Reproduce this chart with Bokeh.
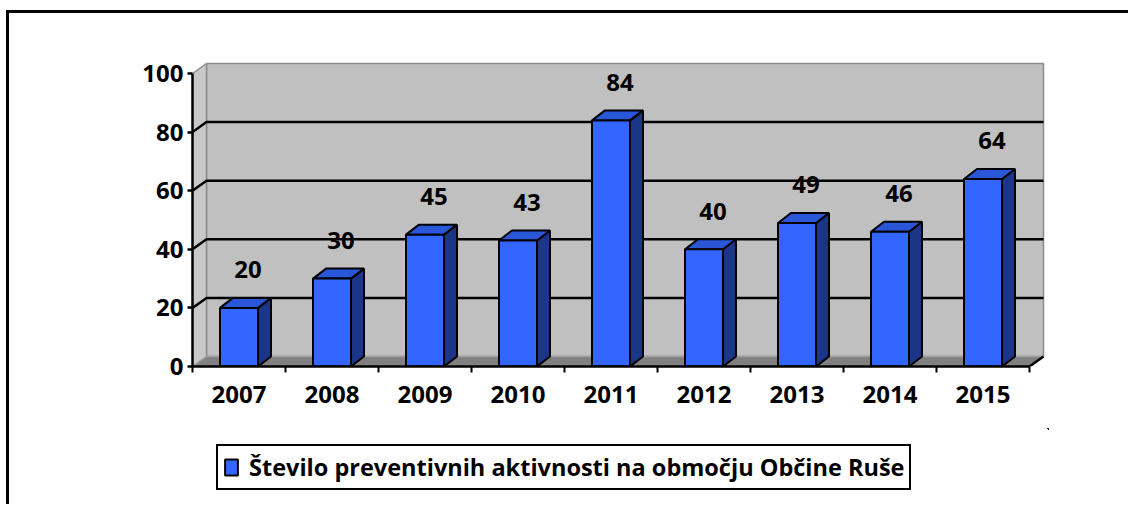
from bokeh.plotting import figure
from bokeh.layouts import column
from bokeh.models import Range1d, FixedTicker, Legend, LegendItem
from bokeh.core.properties import value
from bokeh.embed import file_html
from bokeh.resources import INLINE

# ---- data ----
years = ["2007", "2008", "2009", "2010", "2011", "2012", "2013", "2014", "2015"]
counts = [20, 30, 45, 43, 84, 40, 49, 46, 64]
y_ticks = [0, 20, 40, 60, 80, 100]
series_name = "Število preventivnih aktivnosti na območju Občine Ruše"

# ---- styling / geometry ----
FONT = "Open Sans"
PX_X = 93.0      # pixels per category
PX_Y = 2.93      # pixels per value unit
FRAME_W, FRAME_H = 856, 306
DX, DY = 14 / PX_X, 10 / PX_Y          # wall depth
BDX, BDY = 13 / PX_X, 10 / PX_Y        # bar depth
BW = 38 / PX_X                          # bar front width
FRONT = dict(fill_color="#3366FF", line_color="black", line_width=2)

n = len(years)
ymax = y_ticks[-1]
centers = [i + 0.5 for i in range(n)]

p = figure(frame_width=FRAME_W, frame_height=FRAME_H,
           x_range=Range1d(0, FRAME_W / PX_X), y_range=Range1d(0, FRAME_H / PX_Y),
           output_backend="svg", toolbar_location=None,
           min_border_left=183, min_border_top=47, min_border_right=80, min_border_bottom=62)
p.outline_line_color = None
p.xgrid.visible = False
p.ygrid.visible = False
p.background_fill_color = "white"
p.border_fill_color = "white"

# walls and floor
p.quad(left=DX, right=n + DX, bottom=DY, top=ymax + DY,
       fill_color="#C0C0C0", line_color="#8C8C8C", line_width=1.5)
p.patch([0, DX, DX, 0], [0, DY, ymax + DY, ymax],
        fill_color="#C8C8C8", line_color="#8C8C8C", line_width=1.5)
p.patch([0, n, n + DX, DX], [0, 0, DY, DY],
        fill_color="#808080", line_color="#A0A0A0", line_width=1.5)
p.line([n, n + DX], [0, DY], line_color="black", line_width=2.5)

# gridlines (side wall + back wall)
grid_vals = [v for v in y_ticks if 0 < v < ymax]
p.multi_line(xs=[[0, DX, n + DX] for v in grid_vals],
             ys=[[v, v + DY, v + DY] for v in grid_vals],
             line_color="black", line_width=2.5)

# 3D bars
tops_x, tops_y, sides_x, sides_y = [], [], [], []
for c, v in zip(centers, counts):
    l, r = c - BW / 2, c + BW / 2
    tops_x.append([l, r, r + BDX, l + BDX])
    tops_y.append([v, v, v + BDY, v + BDY])
    sides_x.append([r, r + BDX, r + BDX, r])
    sides_y.append([0, BDY, v + BDY, v])
p.patches(sides_x, sides_y, fill_color="#1C3687", line_color="black", line_width=2)
p.patches(tops_x, tops_y, fill_color="#2A56D8", line_color="black", line_width=2)
p.vbar(x=centers, top=counts, bottom=0, width=BW, **FRONT)

# data labels
p.text(x=centers, y=counts, text=[str(c) for c in counts],
       x_offset=9, y_offset=-38, text_align="center", text_baseline="middle",
       text_font=value(FONT), text_font_style="bold", text_font_size="24px",
       text_color="black")

# axes
ya = p.yaxis[0]
ya.ticker = FixedTicker(ticks=y_ticks)
ya.bounds = (0, ymax)
ya.axis_line_width = 2.5
ya.axis_line_color = "black"
ya.major_tick_out = 5
ya.major_tick_in = 0
ya.major_tick_line_width = 2.5
ya.minor_tick_line_color = None
ya.major_label_standoff = 4
ya.major_label_text_font = FONT
ya.major_label_text_font_style = "bold"
ya.major_label_text_font_size = "24px"
ya.major_label_text_color = "black"

xa = p.xaxis[0]
xa.ticker = FixedTicker(ticks=centers, minor_ticks=list(range(n + 1)))
xa.major_label_overrides = {c: y for c, y in zip(centers, years)}
xa.bounds = (0, n)
xa.axis_line_width = 2.5
xa.axis_line_color = "black"
xa.major_tick_line_color = None
xa.major_tick_out = 0
xa.major_tick_in = 0
xa.minor_tick_out = 6
xa.minor_tick_in = 0
xa.minor_tick_line_width = 2
xa.minor_tick_line_color = "black"
xa.major_label_standoff = 13
xa.major_label_text_font = FONT
xa.major_label_text_font_style = "bold"
xa.major_label_text_font_size = "24px"
xa.major_label_text_color = "black"

# legend strip below the chart (series drawn out of view; only its swatch shows)
lg = figure(width=1119, height=76, x_range=Range1d(-30, -20), y_range=Range1d(-30, -20),
            output_backend="svg", toolbar_location=None,
            x_axis_location=None, y_axis_location=None,
            min_border_left=0, min_border_right=0, min_border_top=0, min_border_bottom=0)
lg.outline_line_color = None
lg.xgrid.visible = False
lg.ygrid.visible = False
lg.background_fill_color = "white"
lg.border_fill_color = "white"
swatch = lg.vbar(x=centers, top=counts, bottom=0, width=BW, **FRONT)
legend = Legend(items=[LegendItem(label=series_name, renderers=[swatch])],
                location=(24, 14), padding=5, margin=0,
                glyph_width=16, glyph_height=20, label_standoff=10,
                border_line_color="black", border_line_width=2.5, border_line_alpha=1,
                label_text_font=FONT, label_text_font_style="bold",
                label_text_font_size="23.5px", label_text_color="black",
                background_fill_color="white", background_fill_alpha=1)
lg.add_layout(legend, "center")

layout = column(p, lg, spacing=0,
                styles={"border-top": "3px solid black", "border-left": "3px solid black",
                        "margin-left": "6px", "margin-top": "10px"})

open("out.html", "w").write(file_html(layout, INLINE))
